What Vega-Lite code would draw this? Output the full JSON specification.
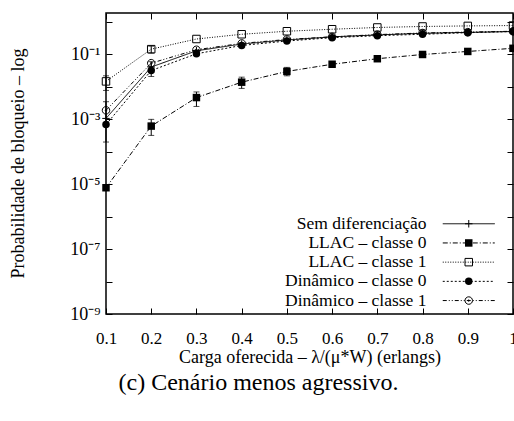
{
  "$schema": "https://vega.github.io/schema/vega-lite/v6.json",
  "width": 407,
  "height": 301,
  "autosize": {"type": "none"},
  "padding": {"left": 106, "top": 13, "right": 1, "bottom": 107},
  "background": "white",
  "config": {
    "font": "Liberation Serif",
    "view": {"stroke": "black", "strokeWidth": 1.5},
    "axis": {
      "grid": false,
      "domain": false,
      "tickColor": "black",
      "tickWidth": 1,
      "labelColor": "black",
      "titleColor": "black",
      "labelFont": "Liberation Serif",
      "titleFont": "Liberation Serif",
      "labelFontSize": 17,
      "titleFontSize": 18,
      "titleFontWeight": "normal"
    },
    "legend": {
      "labelFont": "Liberation Serif",
      "labelFontSize": 17.5,
      "labelColor": "black",
      "padding": 0,
      "rowPadding": 0.2,
      "symbolStrokeWidth": 1
    }
  },
  "title": {
    "text": "(c) Cenário menos agressivo.",
    "orient": "bottom",
    "anchor": "middle",
    "dx": -51,
    "offset": 5,
    "font": "Liberation Serif",
    "fontSize": 24,
    "fontWeight": "normal",
    "color": "black"
  },
  "datasets": {
    "series": [
      {"x": 0.1, "s": "Sem diferenciação", "y": 0.00107},
      {"x": 0.2, "s": "Sem diferenciação", "y": 0.041},
      {"x": 0.3, "s": "Sem diferenciação", "y": 0.13},
      {"x": 0.4, "s": "Sem diferenciação", "y": 0.21},
      {"x": 0.5, "s": "Sem diferenciação", "y": 0.28},
      {"x": 0.6, "s": "Sem diferenciação", "y": 0.35},
      {"x": 0.7, "s": "Sem diferenciação", "y": 0.4},
      {"x": 0.8, "s": "Sem diferenciação", "y": 0.45},
      {"x": 0.9, "s": "Sem diferenciação", "y": 0.48},
      {"x": 1.0, "s": "Sem diferenciação", "y": 0.51},
      {"x": 0.1, "s": "LLAC – classe 0", "y": 0.0000078},
      {"x": 0.2, "s": "LLAC – classe 0", "y": 0.00062},
      {"x": 0.3, "s": "LLAC – classe 0", "y": 0.0047},
      {"x": 0.4, "s": "LLAC – classe 0", "y": 0.014},
      {"x": 0.5, "s": "LLAC – classe 0", "y": 0.03},
      {"x": 0.6, "s": "LLAC – classe 0", "y": 0.05},
      {"x": 0.7, "s": "LLAC – classe 0", "y": 0.074},
      {"x": 0.8, "s": "LLAC – classe 0", "y": 0.1},
      {"x": 0.9, "s": "LLAC – classe 0", "y": 0.124},
      {"x": 1.0, "s": "LLAC – classe 0", "y": 0.155},
      {"x": 0.1, "s": "LLAC – classe 1", "y": 0.0148},
      {"x": 0.2, "s": "LLAC – classe 1", "y": 0.146},
      {"x": 0.3, "s": "LLAC – classe 1", "y": 0.3},
      {"x": 0.4, "s": "LLAC – classe 1", "y": 0.42},
      {"x": 0.5, "s": "LLAC – classe 1", "y": 0.52},
      {"x": 0.6, "s": "LLAC – classe 1", "y": 0.6},
      {"x": 0.7, "s": "LLAC – classe 1", "y": 0.68},
      {"x": 0.8, "s": "LLAC – classe 1", "y": 0.73},
      {"x": 0.9, "s": "LLAC – classe 1", "y": 0.76},
      {"x": 1.0, "s": "LLAC – classe 1", "y": 0.78},
      {"x": 0.1, "s": "Dinâmico – classe 0", "y": 0.00069},
      {"x": 0.2, "s": "Dinâmico – classe 0", "y": 0.032},
      {"x": 0.3, "s": "Dinâmico – classe 0", "y": 0.105},
      {"x": 0.4, "s": "Dinâmico – classe 0", "y": 0.19},
      {"x": 0.5, "s": "Dinâmico – classe 0", "y": 0.26},
      {"x": 0.6, "s": "Dinâmico – classe 0", "y": 0.33},
      {"x": 0.7, "s": "Dinâmico – classe 0", "y": 0.38},
      {"x": 0.8, "s": "Dinâmico – classe 0", "y": 0.42},
      {"x": 0.9, "s": "Dinâmico – classe 0", "y": 0.47},
      {"x": 1.0, "s": "Dinâmico – classe 0", "y": 0.51},
      {"x": 0.1, "s": "Dinâmico – classe 1", "y": 0.0019},
      {"x": 0.2, "s": "Dinâmico – classe 1", "y": 0.054},
      {"x": 0.3, "s": "Dinâmico – classe 1", "y": 0.14},
      {"x": 0.4, "s": "Dinâmico – classe 1", "y": 0.22},
      {"x": 0.5, "s": "Dinâmico – classe 1", "y": 0.29},
      {"x": 0.6, "s": "Dinâmico – classe 1", "y": 0.35},
      {"x": 0.7, "s": "Dinâmico – classe 1", "y": 0.41},
      {"x": 0.8, "s": "Dinâmico – classe 1", "y": 0.46},
      {"x": 0.9, "s": "Dinâmico – classe 1", "y": 0.49},
      {"x": 1.0, "s": "Dinâmico – classe 1", "y": 0.52}
    ],
    "errors": [
      {"x": 0.1, "lo": 0.0002, "hi": 0.0035},
      {"x": 0.1, "lo": 0.0078, "hi": 0.022},
      {"x": 0.2, "lo": 0.00032, "hi": 0.001},
      {"x": 0.3, "lo": 0.0025, "hi": 0.007},
      {"x": 0.4, "lo": 0.009, "hi": 0.02},
      {"x": 0.5, "lo": 0.022, "hi": 0.04},
      {"x": 0.2, "lo": 0.021, "hi": 0.06},
      {"x": 0.2, "lo": 0.11, "hi": 0.18}
    ]
  },
  "layer": [
    {
      "data": {"name": "series"},
      "mark": {"type": "line", "color": "black", "strokeWidth": 1},
      "encoding": {
        "x": {
          "field": "x",
          "type": "quantitative",
          "scale": {"domain": [0.1, 1], "nice": false, "zero": false},
          "axis": {
            "orient": "bottom",
            "values": [0.1, 0.2, 0.3, 0.4, 0.5, 0.6, 0.7, 0.8, 0.9, 1.0],
            "format": ".1~f",
            "tickSize": -6,
            "labelPadding": 22,
            "labelFlush": false,
            "labelOverlap": false,
            "title": "Carga oferecida – λ/(μ*W) (erlangs)",
            "titleY": 43,
            "titleBaseline": "middle"
          }
        },
        "y": {
          "field": "y",
          "type": "quantitative",
          "scale": {"type": "log", "domain": [1e-9, 1.9], "nice": false},
          "axis": {
            "orient": "left",
            "values": [1e-9, 1e-8, 1e-7, 1e-6, 1e-5, 1e-4, 1e-3, 1e-2, 1e-1, 1],
            "labelExpr": "['10⁻⁹','','10⁻⁷','','10⁻⁵','','10⁻³','','10⁻¹',''][round(log(datum.value)/LN10)+9]",
            "labelFontSize": 18,
            "tickSize": -6,
            "labelPadding": 12,
            "labelFlush": false,
            "labelOverlap": false,
            "title": "Probabilidade de bloqueio – log",
            "titleX": -88,
            "titleY": 150,
            "titleAlign": "center",
            "titleBaseline": "middle",
            "titleAngle": 270
          }
        },
        "strokeDash": {
          "field": "s",
          "type": "nominal",
          "scale": {
            "domain": ["Sem diferenciação", "LLAC – classe 0", "LLAC – classe 1", "Dinâmico – classe 0", "Dinâmico – classe 1"],
            "range": [[1, 0], [5, 2, 1, 2], [1, 1.5], [2, 2], [4, 2, 1, 2, 1, 2]]
          },
          "legend": {
            "orient": "none",
            "legendX": 354,
            "legendY": 202,
            "title": null,
            "symbolType": "M-6.5,0L6.5,0",
            "symbolSize": 64,
            "symbolStrokeColor": "black",
            "symbolFillColor": "transparent",
            "labelAlign": "right",
            "labelOffset": -51,
            "labelLimit": 300
          }
        }
      }
    },
    {
      "data": {"name": "errors"},
      "mark": {"type": "errorbar", "color": "black", "thickness": 1, "ticks": {"size": 6, "color": "black"}},
      "encoding": {
        "x": {"field": "x", "type": "quantitative", "axis": null},
        "y": {"field": "lo", "type": "quantitative", "axis": null},
        "y2": {"field": "hi"}
      }
    },
    {
      "data": {"name": "series"},
      "transform": [{"filter": "datum.s !== 'LLAC – classe 0' && datum.s !== 'Dinâmico – classe 0'"}],
      "mark": {"type": "point", "size": 56, "filled": false, "color": "black", "strokeWidth": 1, "opacity": 1},
      "encoding": {
        "x": {"field": "x", "type": "quantitative", "axis": null},
        "y": {"field": "y", "type": "quantitative", "axis": null},
        "shape": {
          "field": "s",
          "type": "nominal",
          "scale": {
            "domain": ["Sem diferenciação", "LLAC – classe 0", "LLAC – classe 1", "Dinâmico – classe 0", "Dinâmico – classe 1", "~a"],
            "range": ["M-1,0L1,0M0,-1L0,1", "M0,0", "square", "M0,0", "M-1,0A1,1,0,1,1,1,0A1,1,0,1,1,-1,0ZM-0.2,0A0.2,0.2,0,1,1,0.2,0A0.2,0.2,0,1,1,-0.2,0Z", "M0,0"]
          },
          "legend": {
            "orient": "none",
            "legendX": 354,
            "legendY": 202,
            "title": null,
            "symbolSize": 56,
            "symbolStrokeColor": "black",
            "symbolFillColor": "transparent",
            "labelExpr": "' '",
            "labelOffset": 4
          }
        }
      }
    },
    {
      "data": {"name": "series"},
      "transform": [{"filter": "datum.s === 'LLAC – classe 0' || datum.s === 'Dinâmico – classe 0'"}],
      "mark": {"type": "point", "size": 56, "filled": true, "color": "black", "opacity": 1},
      "encoding": {
        "x": {"field": "x", "type": "quantitative", "axis": null},
        "y": {"field": "y", "type": "quantitative", "axis": null},
        "shape": {
          "field": "s",
          "type": "nominal",
          "scale": {
            "domain": ["Sem diferenciação", "LLAC – classe 0", "LLAC – classe 1", "Dinâmico – classe 0", "Dinâmico – classe 1", "~b", "~c"],
            "range": ["M0,0", "square", "M0,0", "circle", "M0,0", "M0,0", "M0,0"]
          },
          "legend": {
            "orient": "none",
            "legendX": 354,
            "legendY": 202,
            "title": null,
            "symbolSize": 56,
            "symbolFillColor": "black",
            "labelExpr": "' '",
            "labelOffset": 4
          }
        }
      }
    },
    {
      "data": {"name": "series"},
      "mark": {"type": "point", "opacity": 0},
      "encoding": {
        "x": {
          "field": "x",
          "type": "quantitative",
          "axis": {
            "orient": "top",
            "values": [0.1, 0.2, 0.3, 0.4, 0.5, 0.6, 0.7, 0.8, 0.9, 1.0],
            "labels": false,
            "tickSize": -6,
            "title": null
          }
        },
        "y": {
          "field": "y",
          "type": "quantitative",
          "axis": {
            "orient": "right",
            "values": [1e-9, 1e-8, 1e-7, 1e-6, 1e-5, 1e-4, 1e-3, 1e-2, 1e-1, 1],
            "labels": false,
            "tickSize": -6,
            "title": null
          }
        }
      }
    }
  ],
  "resolve": {
    "scale": {"shape": "independent"},
    "axis": {"x": "independent", "y": "independent"}
  }
}
